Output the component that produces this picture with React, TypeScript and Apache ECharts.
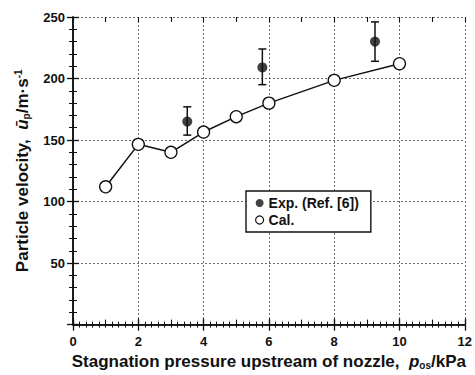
import React, { useEffect, useRef } from "react";
import * as echarts from "echarts";

const calX = [1, 2, 3, 4, 5, 6, 8, 10];
const calY = [112, 146.5, 140, 156.5, 169, 180, 198.5, 212];
const expX = [3.5, 5.8, 9.25];
const expY = [165, 209, 230];
const expLow = [154, 195, 214];
const expHigh = [177, 224, 246];
const xTicks = [0, 2, 4, 6, 8, 10, 12];
const yTicks = [50, 100, 150, 200, 250];

const FONT = "Liberation Sans, Arial, sans-serif";

export default function App() {
  const ref = useRef<HTMLDivElement>(null);
  useEffect(() => {
    if (!ref.current) return;
    const chart = echarts.init(ref.current, null, { renderer: "svg" });
    const axisLine = { show: true, lineStyle: { color: "#111", width: 1.5 } };
    const splitLine = { show: true, lineStyle: { color: "#444", type: [2, 2] as any, width: 0.8 } };
    const baseX = {
      type: "value" as const,
      min: xTicks[0],
      max: xTicks[xTicks.length - 1],
      interval: 2,
    };
    const baseY = {
      type: "value" as const,
      min: 0,
      max: yTicks[yTicks.length - 1],
      interval: 50,
    };
    const option: any = {
      animation: false,
      backgroundColor: "#fff",
      textStyle: { fontFamily: FONT },
      grid: { left: 73, right: 7, top: 17, bottom: 47, containLabel: false },
      xAxis: [
        {
          ...baseX,
          position: "bottom",
          axisLine,
          axisTick: { show: true, inside: true, length: 6, lineStyle: { color: "#111", width: 1.3 } },
          minorTick: { show: true, splitNumber: 10, length: 3, lineStyle: { color: "#111", width: 1 } },
          splitLine: { ...splitLine, show: true },
          axisLabel: {
            show: true,
            color: "#111",
            fontSize: 13,
            fontWeight: "bold",
            margin: 10,
            fontFamily: FONT,
            formatter: (v: number) => (v === 0 ? "0" : String(v)),
          },
          name: "{t|Stagnation pressure upstream of nozzle,  }{i|p}{s|os}{t|/kPa}",
          nameLocation: "middle",
          nameGap: 26,
          nameTextStyle: {
            rich: {
              t: { fontSize: 17, color: "#111", fontFamily: FONT, fontWeight: "bold" },
              i: { fontSize: 17, color: "#111", fontFamily: FONT, fontStyle: "italic", fontWeight: "bold" },
              s: { fontSize: 10, color: "#111", fontFamily: FONT, fontWeight: "bold", padding: [8, 0, 0, 0] },
            },
          },
        },
        {
          ...baseX,
          position: "top",
          axisLine,
          axisTick: { show: true, inside: true, length: 6, lineStyle: { color: "#111", width: 1.3 } },
          minorTick: { show: true, splitNumber: 10, length: 3, lineStyle: { color: "#111", width: 1 } },
          splitLine: { show: false },
          axisLabel: { show: false },
        },
        {
          type: "value",
          min: 0,
          max: 12,
          interval: 1,
          position: "bottom",
          axisLine: { show: false },
          axisTick: { show: true, inside: true, length: 5, lineStyle: { color: "#111", width: 1.1 } },
          splitLine: { show: false },
          axisLabel: { show: false },
        },
        {
          type: "value",
          min: 0,
          max: 12,
          interval: 1,
          position: "top",
          axisLine: { show: false },
          axisTick: { show: true, inside: true, length: 5, lineStyle: { color: "#111", width: 1.1 } },
          splitLine: { show: false },
          axisLabel: { show: false },
        },
      ],
      yAxis: [
        {
          ...baseY,
          position: "left",
          axisLine,
          axisTick: { show: true, inside: true, length: 6, lineStyle: { color: "#111", width: 1.3 } },
          minorTick: { show: true, splitNumber: 5, length: 4, lineStyle: { color: "#111", width: 1 } },
          splitLine: { ...splitLine, show: true },
          axisLabel: {
            show: true,
            color: "#111",
            fontSize: 13,
            fontWeight: "bold",
            margin: 8,
            fontFamily: FONT,
            formatter: (v: number) => (v === 0 ? "" : String(v)),
          },
          name: "{t|Particle velocity,  }{i|ū}{s|p}{t|/m·s}{u|-1}",
          nameLocation: "middle",
          nameGap: 42,
          nameRotate: 90,
          nameTextStyle: {
            rich: {
              t: { fontSize: 17, color: "#111", fontFamily: FONT, fontWeight: "bold" },
              i: { fontSize: 17, color: "#111", fontFamily: FONT, fontStyle: "italic", fontWeight: "bold" },
              s: { fontSize: 10, color: "#111", fontFamily: FONT, fontWeight: "bold", padding: [8, 0, 0, 0] },
              u: { fontSize: 10, color: "#111", fontFamily: FONT, fontWeight: "bold", padding: [0, 0, 8, 0] },
            },
          },
        },
        {
          ...baseY,
          position: "right",
          axisLine,
          axisTick: { show: true, inside: true, length: 6, lineStyle: { color: "#111", width: 1.3 } },
          minorTick: { show: true, splitNumber: 5, length: 4, lineStyle: { color: "#111", width: 1 } },
          splitLine: { show: false },
          axisLabel: { show: false },
        },
      ],
      legend: {
        left: 246,
        top: 191,
        orient: "vertical",
        backgroundColor: "#fff",
        borderColor: "#111",
        borderWidth: 1.4,
        borderRadius: 0,
        padding: [5, 12, 5, 9],
        itemGap: 3,
        itemWidth: 8,
        itemHeight: 8,
        textStyle: { fontSize: 14, color: "#111", fontFamily: FONT, fontWeight: "bold" },
        data: [
          { name: "Exp. (Ref. [6])", icon: "circle", itemStyle: { color: "#111", borderWidth: 0 } },
          { name: "Cal.", icon: "circle", itemStyle: { color: "#fff", borderColor: "#111", borderWidth: 1.2 } },
        ],
      },
      series: [
        {
          name: "Cal.",
          type: "line",
          xAxisIndex: 0,
          yAxisIndex: 0,
          data: calX.map((x, i) => [x, calY[i]]),
          symbol: "circle",
          symbolSize: 12,
          itemStyle: { color: "#fff", borderColor: "#111", borderWidth: 1.3 },
          lineStyle: { color: "#111", width: 1.5 },
          z: 3,
        },
        {
          name: "errbars",
          type: "custom",
          xAxisIndex: 0,
          yAxisIndex: 0,
          data: expX.map((x, i) => [x, expLow[i], expHigh[i]]),
          renderItem: (params: any, api: any) => {
            const x = api.value(0);
            const lo = api.coord([x, api.value(1)]);
            const hi = api.coord([x, api.value(2)]);
            const cap = 4;
            const st = { stroke: "#111", lineWidth: 1.5 };
            return {
              type: "group",
              children: [
                { type: "line", shape: { x1: lo[0], y1: lo[1], x2: hi[0], y2: hi[1] }, style: st },
                { type: "line", shape: { x1: lo[0] - cap, y1: lo[1], x2: lo[0] + cap, y2: lo[1] }, style: st },
                { type: "line", shape: { x1: hi[0] - cap, y1: hi[1], x2: hi[0] + cap, y2: hi[1] }, style: st },
              ],
            };
          },
          z: 2,
        },
        {
          name: "Exp. (Ref. [6])",
          type: "scatter",
          xAxisIndex: 0,
          yAxisIndex: 0,
          data: expX.map((x, i) => [x, expY[i]]),
          symbol: "circle",
          symbolSize: 10,
          itemStyle: { color: "#111" },
          z: 4,
        },
      ],
    };
    chart.setOption(option);
    return () => chart.dispose();
  }, []);
  return <div ref={ref} style={{ width: 475, height: 375, position: "absolute", left: 0, top: 0 }} />;
}
